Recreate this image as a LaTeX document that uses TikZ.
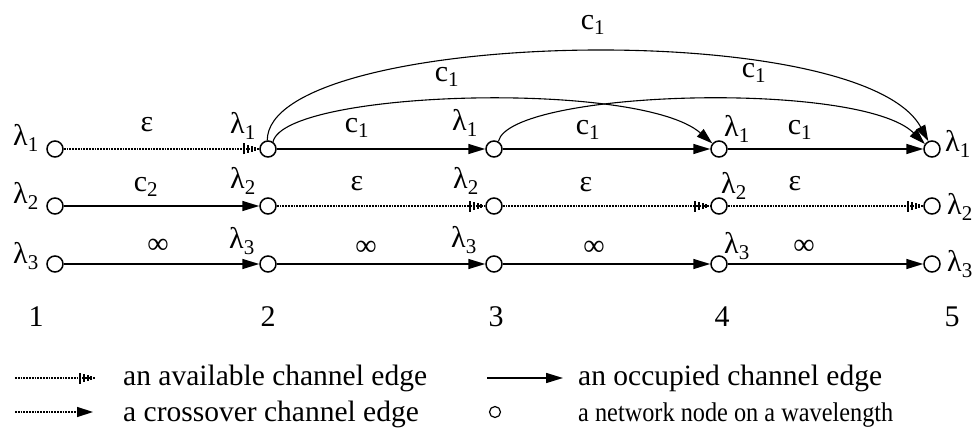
\documentclass[tikz,border=0pt]{standalone}
\usepackage{fontspec}
\setmainfont{Liberation Serif}
\usetikzlibrary{arrows.meta,decorations.markings}
\newcommand\mylam[1]{λ\textsubscript{#1}}
\newcommand\myc[1]{c\textsubscript{#1}}
\begin{document}
\begin{tikzpicture}[x=1pt,y=1pt,
  vnode/.style={circle,draw,line width=1.5pt,fill=white,minimum size=16pt,inner sep=0pt},
  smallnode/.style={circle,draw,line width=1.2pt,fill=white,minimum size=11pt,inner sep=0pt},
  lbl/.style={inner sep=0pt,font=\fontsize{30}{34}\selectfont},
  legtxt/.style={inner sep=0pt,font=\fontsize{29.5}{34}\selectfont,anchor=base west},
  occ/.style={line width=1.5pt,-{Triangle[length=17pt,width=10pt]}},
  cross/.style={line width=1.1pt,-{Triangle[length=16pt,width=10pt]}},
  crossleg/.style={line width=1.4pt,dash pattern=on 1.8pt off 1pt,-{Triangle[length=16pt,width=10pt]}},
  avail/.style={line width=1.4pt,dash pattern=on 1.8pt off 1pt,postaction={decorate},
    decoration={markings,mark=at position 1 with {
      \draw[solid,line width=2pt] (-15pt,-5.5pt)--(-15pt,5.5pt) (-11pt,-4pt)--(-11pt,4pt)
        (-7.5pt,-3pt)--(-7.5pt,3pt) (-4pt,-1.8pt)--(-4pt,1.8pt);}}},
]
\useasboundingbox (0,0) rectangle (975,-433);
% nodes
\foreach \r/\y in {1/-149,2/-206,3/-264}{
  \node[vnode] (n\r1) at (55,\y) {};
  \node[vnode] (n\r2) at (268,\y) {};
  \node[vnode] (n\r3) at (494,\y) {};
  \node[vnode] (n\r4) at (719,\y) {};
  \node[vnode] (n\r5) at (932,\y) {};
}
% row 1
\draw[avail] (n11) -- (n12);
\draw[occ] (n12) -- (n13);
\draw[occ] (n13) -- (n14);
\draw[occ] (n14) -- (n15);
% row 2
\draw[occ] (n21) -- (n22);
\draw[avail] (n22) -- (n23);
\draw[avail] (n23) -- (n24);
\draw[avail] (n24) -- (n25);
% row 3
\draw[occ] (n31) -- (n32);
\draw[occ] (n32) -- (n33);
\draw[occ] (n33) -- (n34);
\draw[occ] (n34) -- (n35);
% crossover arcs
\draw[cross] (n12.95) .. controls (268,-30) and (860,-15) .. (n15.115);
\draw[cross] (n12.55) .. controls (285,-90) and (640,-80) .. (n14.140);
\draw[cross] (n13.60) .. controls (510,-90) and (860,-80) .. (n15.145);
% left / right wavelength labels
\node[lbl] (l1) at (26,-138) {\mylam{1}};
\node[lbl] (l2) at (26,-196) {\mylam{2}};
\node[lbl] (l3) at (26,-256) {\mylam{3}};
\node[lbl] (r1) at (958,-144) {\mylam{1}};
\node[lbl] (r2) at (960,-207) {\mylam{2}};
\node[lbl] (r3) at (960,-264) {\mylam{3}};
% labels at nodes 2,3,4
\node[lbl] (a21) at (243,-126) {\mylam{1}};
\node[lbl] (a22) at (243,-181) {\mylam{2}};
\node[lbl] (a23) at (242,-241) {\mylam{3}};
\node[lbl] (a31) at (465,-123) {\mylam{1}};
\node[lbl] (a32) at (466,-181) {\mylam{2}};
\node[lbl] (a33) at (464,-240) {\mylam{3}};
\node[lbl] (a41) at (737,-129) {\mylam{1}};
\node[lbl] (a42) at (734,-186) {\mylam{2}};
\node[lbl] (a43) at (737,-246) {\mylam{3}};
% edge labels
\node[lbl] (e11) at (147,-125) {ε};
\node[lbl] (e12) at (357,-128) {\myc{1}};
\node[lbl] (e13) at (588,-130) {\myc{1}};
\node[lbl] (e14) at (800,-130) {\myc{1}};
\node[lbl] (e21) at (146,-187) {\myc{2}};
\node[lbl] (e22) at (357,-184) {ε};
\node[lbl] (e23) at (586,-185) {ε};
\node[lbl] (e24) at (795,-184) {ε};
\node[lbl] (e31) at (158,-246) {∞};
\node[lbl] (e32) at (366,-248) {∞};
\node[lbl] (e33) at (594,-248) {∞};
\node[lbl] (e34) at (804,-247) {∞};
% arc labels
\node[lbl] (c1) at (593,-25) {\myc{1}};
\node[lbl] (c2) at (447,-77) {\myc{1}};
\node[lbl] (c3) at (754,-73) {\myc{1}};
% column numbers
\node[lbl] (k1) at (36,-317) {1};
\node[lbl] (k2) at (268,-317) {2};
\node[lbl] (k3) at (496,-317) {3};
\node[lbl] (k4) at (722,-317) {4};
\node[lbl] (k5) at (952,-317) {5};
% legend
\coordinate (la1) at (15,-378);
\coordinate (la2) at (95,-378);
\draw[avail] (la1) -- (la2);
\node[legtxt] (ta) at (123,-385) {an available channel edge};
\coordinate (lo1) at (487,-378);
\coordinate (lo2) at (563,-378);
\draw[occ] (lo1) -- (lo2);
\node[legtxt] (to) at (578,-385) {an occupied channel edge};
\coordinate (lc1) at (15,-412);
\coordinate (lc2) at (93,-412);
\draw[crossleg] (lc1) -- (lc2);
\node[legtxt] (tc) at (123,-421) {a crossover channel edge};
\node[smallnode] (ln) at (495,-412) {};
\node[legtxt,font=\fontsize{27}{32}\selectfont] (tn) at (578,-421) {\scalebox{0.9}[1]{a network node on a wavelength}};
\end{tikzpicture}
\end{document}
